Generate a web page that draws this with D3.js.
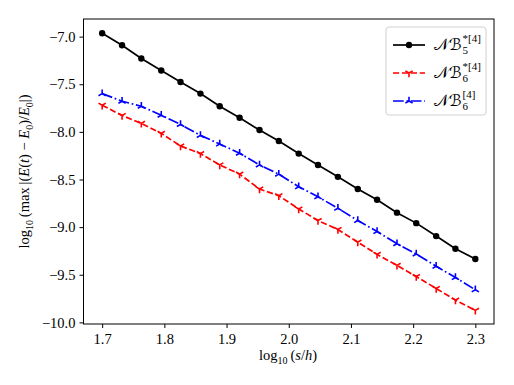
<!DOCTYPE html>
<html>
<head>
<meta charset="utf-8">
<script src="https://cdn.jsdelivr.net/npm/d3@7"></script>
<style>
  body { margin: 0; background: #fff; }
  svg { display: block; }
  .tick text { font-family: 'Liberation Serif', 'DejaVu Serif', serif; font-size: 14.5px; fill: #000; }
  .tick line { stroke: #000; }
  .domain { display: none; }
  .lbl { font-family: 'Liberation Serif', 'DejaVu Serif', serif; fill: #000; }
</style>
</head>
<body>
<div id="content"></div>
<script>
// log10(s/h)
var xs = [1.700, 1.732, 1.763, 1.795, 1.826, 1.858, 1.889, 1.921, 1.953, 1.984,
          2.016, 2.047, 2.079, 2.111, 2.142, 2.174, 2.205, 2.237, 2.268, 2.300];

var nb5star = [-6.965, -7.090, -7.230, -7.355, -7.476, -7.598, -7.731, -7.852, -7.981, -8.096,
               -8.228, -8.347, -8.472, -8.600, -8.712, -8.848, -8.958, -9.094, -9.227, -9.334];
var nb6star = [-7.720, -7.828, -7.911, -8.016, -8.148, -8.228, -8.347, -8.444, -8.600, -8.670,
               -8.809, -8.931, -9.025, -9.157, -9.286, -9.401, -9.519, -9.644, -9.766, -9.874];
var nb6 = [-7.598, -7.678, -7.731, -7.825, -7.922, -8.037, -8.127, -8.224, -8.347, -8.444,
           -8.576, -8.681, -8.802, -8.931, -9.046, -9.174, -9.282, -9.411, -9.529, -9.658];

var xTicks = [1.7, 1.8, 1.9, 2.0, 2.1, 2.2, 2.3];
var yTicks = [-10.0, -9.5, -9.0, -8.5, -8.0, -7.5, -7.0];

var series = [
    {name: 'nb5star', values: nb5star, color: '#000000', dash: null, marker: 'circle', sub: '5', sup: '*[4]'},
    {name: 'nb6star', values: nb6star, color: '#ff0000', dash: '6.2,2.7', marker: 'tridown', sub: '6', sup: '*[4]'},
    {name: 'nb6', values: nb6, color: '#0000ff', dash: '10.7,2.7,1.7,2.7', marker: 'triup', sub: '6', sup: '[4]'}
];

var width = 514, height = 385;
var plotLeft = 83.5, plotRight = 494, plotTop = 19, plotBottom = 324;

var svg = d3.select('#content')
    .append('svg')
    .attr('width', width)
    .attr('height', height);

var x = d3.scaleLinear().domain([1.67, 2.33]).range([plotLeft, plotRight]);
var y = d3.scaleLinear().domain([-10.017, -6.815]).range([plotBottom, plotTop]);

var fmt = d3.format('.1f');
var minusFmt = function (d) { return fmt(d).replace('-', '\u2212'); };

svg.append('g')
    .attr('transform', 'translate(0,' + plotBottom + ')')
    .call(d3.axisBottom(x).tickValues(xTicks).tickFormat(fmt).tickSize(4).tickPadding(5))
    .selectAll('text').attr('dy', '0.76em');

svg.append('g')
    .attr('transform', 'translate(' + plotLeft + ',0)')
    .call(d3.axisLeft(y).tickValues(yTicks).tickFormat(minusFmt).tickSize(4).tickPadding(4));

// frame
svg.append('rect')
    .attr('x', plotLeft).attr('y', plotTop)
    .attr('width', plotRight - plotLeft).attr('height', plotBottom - plotTop)
    .attr('fill', 'none').attr('stroke', '#000').attr('stroke-width', 1);

var line = d3.line()
    .x(function (d, i) { return x(xs[i]); })
    .y(function (d) { return y(d); });

function drawMarker(g, kind, color, r) {
    if (kind === 'circle') {
        g.append('circle').attr('r', 3.2).attr('fill', color);
    } else {
        var s = kind === 'tridown' ? 1 : -1;
        var p = 'M0,0L0,' + (s * r) +
            'M0,0L' + (0.866 * r) + ',' + (-s * 0.5 * r) +
            'M0,0L' + (-0.866 * r) + ',' + (-s * 0.5 * r);
        g.append('path').attr('d', p).attr('stroke', color).attr('stroke-width', 1.6).attr('fill', 'none');
    }
}

series.forEach(function (s) {
    svg.append('path')
        .datum(s.values)
        .attr('d', line)
        .attr('fill', 'none')
        .attr('stroke', s.color)
        .attr('stroke-width', 1.7)
        .attr('stroke-dasharray', s.dash);

    s.values.forEach(function (v, i) {
        var g = svg.append('g').attr('transform', 'translate(' + x(xs[i]) + ',' + y(v) + ')');
        drawMarker(g, s.marker, s.color, 4.2);
    });
});

// axis labels
var xl = svg.append('text').attr('class', 'lbl')
    .attr('x', 288).attr('y', 360).attr('text-anchor', 'middle').style('font-size', '14.5px');
xl.append('tspan').text('log');
xl.append('tspan').attr('dy', 4).style('font-size', '10px').text('10');
xl.append('tspan').attr('dy', -4).text('\u2009(');
xl.append('tspan').style('font-style', 'italic').text('s');
xl.append('tspan').text('/');
xl.append('tspan').style('font-style', 'italic').text('h');
xl.append('tspan').text(')');

var yl = svg.append('text').attr('class', 'lbl')
    .attr('transform', 'translate(29,' + ((plotTop + plotBottom) / 2) + ') rotate(-90)')
    .attr('text-anchor', 'middle').style('font-size', '14.5px');
yl.append('tspan').text('log');
yl.append('tspan').attr('dy', 4).style('font-size', '10px').text('10');
yl.append('tspan').attr('dy', -4).text('\u2009(max\u2009|(');
yl.append('tspan').style('font-style', 'italic').text('E');
yl.append('tspan').text('(');
yl.append('tspan').style('font-style', 'italic').text('t');
yl.append('tspan').text(') \u2212 ');
yl.append('tspan').style('font-style', 'italic').text('E');
yl.append('tspan').attr('dy', 4).style('font-size', '10px').text('0');
yl.append('tspan').attr('dy', -4).text(')/');
yl.append('tspan').style('font-style', 'italic').text('E');
yl.append('tspan').attr('dy', 4).style('font-size', '10px').text('0');
yl.append('tspan').attr('dy', -4).text('|)');

// legend
var lg = svg.append('g').attr('transform', 'translate(386,27)');
lg.append('rect')
    .attr('width', 100).attr('height', 88)
    .attr('rx', 3)
    .attr('fill', '#fff').attr('stroke', '#d0d0d0').attr('stroke-width', 1);

series.forEach(function (s, i) {
    var ly = 18 + i * 28;
    lg.append('line')
        .attr('x1', 7).attr('x2', 39).attr('y1', ly).attr('y2', ly)
        .attr('stroke', s.color).attr('stroke-width', 1.7)
        .attr('stroke-dasharray', s.dash);
    var g = lg.append('g').attr('transform', 'translate(23,' + ly + ')');
    drawMarker(g, s.marker, s.color, 4.2);

    var t = lg.append('text').attr('class', 'lbl')
        .attr('x', 48).attr('y', ly + 5)
        .style('font-size', '16px').style('font-family', "'DejaVu Serif', 'DejaVu Sans', serif")
        .text('\uD835\uDCA9\u212C');
    var w = t.node().getComputedTextLength();
    lg.append('text').attr('class', 'lbl')
        .attr('x', 48 + w + 1).attr('y', ly - 3)
        .style('font-size', '11px').text(s.sup);
    lg.append('text').attr('class', 'lbl')
        .attr('x', 48 + w + 1).attr('y', ly + 9)
        .style('font-size', '11px').text(s.sub);
});
</script>
</body>
</html>
